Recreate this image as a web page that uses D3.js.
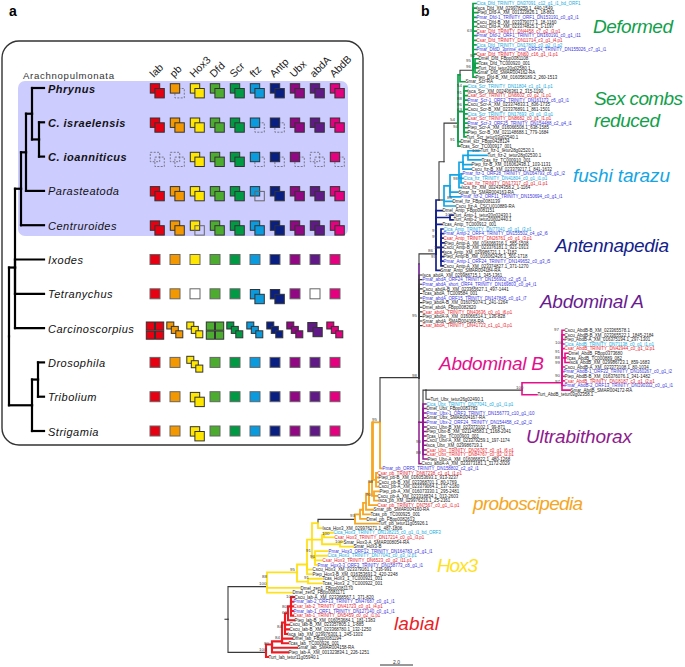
<!DOCTYPE html>
<html><head><meta charset="utf-8">
<script src="https://cdn.jsdelivr.net/npm/d3@7/dist/d3.min.js"></script>
<style>html,body{margin:0;padding:0;background:#fff}svg{display:block}text{font-family:"Liberation Sans",Arial,sans-serif}</style>
</head><body><svg id="c" width="685" height="667"></svg>
<script>
// ---------- panel a data ----------
const genes = ["lab","pb","Hox3","Dfd","Scr","ftz","Antp","Ubx","abdA","AbdB"];
const geneColors = ["#e60012","#f39800","#ffe600","#4cac2f","#009a44","#0a9ade","#0a1f82","#920783","#601986","#e4007f"];
const species = ["Phrynus","C. israelensis","C. ioanniticus","Parasteatoda","Centruroides","Ixodes","Tetranychus","Carcinoscorpius","Drosophila","Tribolium","Strigamia"];
// copy pattern: 1 single, 0 absent, 2 double, d second copy dashed, x both dashed, w second copy white, 3 triple, 4 quadruple, c compact double
const copies = [
 ["2","d","2","2","2","2","2","2","2","2"],
 ["2","2","2","2","2","d","d","2","2","2"],
 ["x","x","2","2","2","d","d","d","x","d"],
 ["2","2","2","2","2","w","2","2","2","2"],
 ["2","2","w","2","2","2","2","2","2","2"],
 ["1","1","1","1","1","1","1","1","1","1"],
 ["1","1","0","1","1","2","2","1","0","1"],
 ["4","3","3","4","3","3","3","3","c","3"],
 ["1","1","3","1","1","1","1","1","1","1"],
 ["1","1","2","1","1","1","1","1","1","1"],
 ["1","1","2","1","1","1","1","1","1","1"]];
const speciesBold = ["Phrynus","C. israelensis","C. ioanniticus"];
// species cladogram: depth on the cladogram axis, tips named
const speciesTree = {d:0,c:[
 {d:6,c:[
  {d:12,c:[
   {d:17,c:[
    {d:23,c:[{s:"Phrynus"},{d:30,c:[{s:"C. israelensis"},{s:"C. ioanniticus"}]}]},
    {s:"Parasteatoda"}]},
   {s:"Centruroides"}]},
  {s:"Ixodes"},{s:"Tetranychus"},{s:"Carcinoscorpius"}]},
 {d:23,c:[{d:29,c:[{s:"Drosophila"},{s:"Tribolium"}]},{s:"Strigamia"}]}]};

// ---------- panel b data: tip labels and tip depths, top to bottom ----------
const dfdLeaves = ["Cica_Dfd_TRINITY_DN37091_c12_g1_i1_bd_ORF1","Isca_Dfd_XM_029978259.1_440-1549","Ptep_Dfd-A_XM_001323826.1_18-863","Pmar_Dfd-1_TRINITY_ORF1_DN153191_c0_g3_i1","Cscu_Dfd-B_XM_023379077.1_18-1160","Cscu_Dfd-A_XM_023374825.1_1-1197","Csar_Dfd_TRINITY_DN4458_c7_g2_i3.p1","Pmar_Dfd-2_ORF1_TRINITY_DN160191_c0_g1_i11","Csar_Dfd_TRINITY_DN11714_c3_g1_i4.p1","Cica_Dfd_TRINITY_DN17803_c0_g2_i1.p2","Pmar_DfdD_3prime_end_ORF34_TRINITY_DN155026_c7_g1_i1","Csar_Dfd_TRINITY_DN60_c16_g1_i1.p1","Dmel_Dfd_FBpp0081108","Tcas_Dfd_TC000920_001","Turt_Dfd_tetur20g02580.1","Smar_Dfd_SMAR004162-RA","Ptep_Dfd-B_XM_016058189.2_260-1513"];
const dfdDepths = [248,248,249,248,248,248,248,248,248,248,248,248,250,250,250,249,247];
const scrLeaves = ["Smar_Scr-RA","Cica_Scr_TRINITY_DN11804_c1_g1_i1.p1","Isca_Scr_XM_002406361.2_315-1190","Csar_Scr_TRINITY_DN6602_c0_g2_i1.p1","Pmar_Scr-1_ORF2_TRINITY_DN161173_c6_g3_i1","Cscu_Scr-A_XM_023374833.1_836-1735","Cscu_Scr-B_XM_023376891.1_861-1501","Cica_Scr_TRINITY_DN17693_c0_g1_i3.p1","Csar_Scr_TRINITY_DN8682_c0_g1_i1.p1","Pmar_Scr-3_ORF25_TRINITY_DN154488_c2_g4_i1","Ptep_Scr-A_XM_016066508.1_638-1585","Ptep_Scr-B_XM_021148688.1_779-1684","Turt_Scr_tetur03g02540.1","Dmel_scr_FBpp0428124","Tcas_Scr_TC000917_001"];
const scrDepths = [237,239,239,239,239,239,239,239,239,239,239,239,238,232,232];
const ftzLeaves = ["Turt_ftz-1_tetur28g02520.1","Turt_ftz-2_tetur28g02530.1","Tcas_ftz_TC000910_001","Ptep_ftz-B_XM_016062438.1_103-1131","Cscu_ftz-B_XM_023379217.1_841-1632","Pmar_ftz-1_ORF28_TRINITY_DN164793_c6_g1_i2","Cica_ftz_TRINITY_DN41804_c0_g1_i1.p1","Csar_ftz_TRINITY_DN17317_c0_g1_i1.p1","Isca_ftz_XM_002434358.2_1-1164","Smar_ftz_SMAR004163-RA","Pmar_ftz-2_ORF11_TRINITY_DN150694_c0_g1_i1","Dmel_ftz_FBpp0081139","Cscu_ftz-A_CSCU010889-RA"];
const ftzDepths = [252,259,253,243,243,234,235,235,233,230,232,224,227];
const antpLeaves = ["Dmel_Antp_FBpp0081151","Turt_Antp-1_tetur20g02430.1","Turt_Antp-2_tetur20g02440.1","Tcas_Antp_TC000912_001","Cica_Antp_TRINITY_DN77041_c0_g1_i3.p1","Pmar_Antp-2_ORF4_TRINITY_DN155502_c4_g2_i6","Csar_Antp_TRINITY_DN26761_c0_g1_i3.p1","Ptep_Antp-A_XM_016066316.1_585-1508","Cscu_Antp-B_XM_023376181.1_921-1913","Isca_Antp_XM_029986721.1_1-1182","Ptep_Antp-B_XM_016062426.1_501-1718","Pmar_Antp-1_ORF24_TRINITY_DN149652_c0_g3_i5","Cscu_Antp-A_XM_023374827.1_371-1270","Smar_Antp_SMAR004184-RA"];
const antpDepths = [214,225,225,214,215,215,215,216,215,215,215,215,215,212];
const abdALeaves = ["Isca_abdA_XM_029986715.1_345-1361","Pmar_abdA_ORF24_TRINITY_DN156902_c2_g5_i1","Pmar_abdA_short_ORF4_TRINITY_DN169803_c0_g4_i1","Cscu_abdA-B_XM_023365627.1_497-1441","Tcas_abdA_TC009584_001","Pmar_abdA_ORF15_TRINITY_DN147845_c0_g1_i7","Ptep_abdA-B_XM_016075074.1_241-1264","Dmel_abdA_FBpp0082620","Csar_abdA_TRINITY_DN43636_c0_g1_i6.p1","Ptep_abdA-A_XM_016066514.1_136-828","Smar_abdA_SMAR004168-RA","Csar_abdA_TRINITY_DN41723_c1_g1_i3.p1"];
const abdADepths = [194,194,194,194,194,194,194,194,194,194,194,194];
const abdBLeaves = ["Cscu_AbdB-B_XM_023365578.1","Cscu_AbdB-B_XM_023365522.1_1845-2184","Ptep_AbdB-A_XM_016375194.1_297-1301","Cica_AbdB_TRINITY_DN71138_c0_g1_i1.p1","Csar_AbdB_TRINITY_DN42944_c0_g1_i2.p1","Dmel_AbdB_FBpp0373680","Tcas_AbdB_TC000889_082","Isca_AbdB_XM_029986723.1_859-1683","Cscu_AbdB-A_XM_023373108.1_80-1034","Pmar_AbdB-1_ORF22_TRINITY_DN160267_c0_g1_i2","Ptep_AbdB-B_XM_016376076.1_341-1482","Csar_AbdB_TRINITY_DN18187_c3_g1_i2.p1","Pmar_AbdB-2_ORF13_TRINITY_DN190332_c0_g1_i1","Smar_AbdB_SMAR004172-RA","Turt_AbdB_tetur03g02358.1"];
const abdBDepths = [336,336,336,336,336,340,338,341,336,335,336,336,336,342,309];
const ubxLeaves = ["Turt_Ubx_tetur26g02490.1","Cica_Ubx_TRINITY_DN77041_c0_g1_i1.p1","Dmel_Ubx_FBpp0083783","Pmar_Ubx-1_ORF3_TRINITY_DN156773_c10_g1_i10","Smar_Ubx_SMAR004167-RA","Pmar_Ubx-2_ORF24_TRINITY_DN154458_c2_g2_i2","Cscu_Ubx-B_XM_023373102.1_99-871","Ptep_Ubx-B_XM_021148583.1_1168-2041","Tcas_Ubx_TC000903_001","Cscu_Ubx-A_XM_023379259.1_197-1174","Isca_Ubx_XM_029986719.1","Csar_Ubx_TRINITY_DN26767_c0_g1_i6.p1","Csar_Ubx_TRINITY_DN84767_c0_g2_i2.p1","Ptep_Ubx-A_XM_016066822.1_480-1268","Cscu_abdA-A_XM_023373181.1_1172-2029"];
const ubxDepths = [202,198,198,198,198,198,198,198,198,198,198,198,198,199,193];
const pbLeaves = ["Pmar_pb_ORF5_TRINITY_DN158802_c2_g2_i1","Csar_pb_TRINITY_DN67238_c1_g1_i1.p1","Ptep_pb-B_XM_016053693.1_913-3237","Cscu_pb-B_XM_023368701.1_80-1769","Cscu_pb-A_XM_023379064.1_137-2180","Ptep_pb-A_XM_016073330.1_295-2481","Cscu_pb-A_XM_023316834.1_013-2603","Isca_pb_XM_029976216.1_25-2161","Csar_pb_TRINITY_DN7567_c0_g1_i1.p1","Smar_pb_SMAR004160-RA","Tcas_pb_TC000925_001","Dmel_pb_FBpp0082613","Turt_pb_tetur11g05926.1"];
const pbDepths = [154,149,150,150,150,151,149,150,149,145,142,138,150];
const hox3Leaves = ["Isca_Hox3_XM_029976271.1_487-1806","Cica_Hox3_TRINITY_DN138215_c0_g1_i1_bd_ORF3","Csar_Hox3_TRINITY_DN17214_c0_g1_i3.p1","Smar_Hox3-A_SMAR008054-RA","Smar_Hox3-B","Pmar_Hox3_ORF12_TRINITY_DN164783_c3_g1_i1","Cica_Hox3_TRINITY_DN77041_c0_g3_i2.p1","Csar_Hox3_TRINITY_DN6523_c0_g2_i11.p1","Pmar_Hox3-3_ORF3_TRINITY_DN158773_c8_g1_i1","Cscu_Hox3_XM_023379161.1_316-991","Ptep_Hox3-B_XM_016353691.2_420-2248","Tcas_Hox3_1_TC000921_001","Tcas_Hox3_2_TC000922_001","Dmel_zen1_FBpp0081170","Dmel_zen2_FBpp0081171"];
const hox3Depths = [94,105,106,115,125,100,99,94,89,84,84,94,94,72,64];
const labLeaves = ["Cscu_lab-A_XM_023368567.1_371-820","Pmar_lab-2_ORF13_TRINITY_DN47687_c0_g1_i1","Csar_lab-2_TRINITY_DN41723_c0_g1_i4.p1","Pmar_lab-1_ORF1_TRINITY_DN127140_c0_g1_i1","Csar_lab-1_TRINITY_DN5459_c0_g2_i1.p1","Ptep_lab-B_XM_016053684.1_181-1383","Cscu_lab-B_XM_023357805.1_1-885","Cscu_lab-B_XM_023368780.1_132-1250","Isca_lab_XM_029976301.1_245-1303","Dmel_lab_FBpp0081194","Tcas_lab_TC000926_001","Smar_lab_SMAR004158-RA","Ptep_lab-A_XM_001323834.1_226-1251","Turt_lab_tetur11g05940.1"];
const labDepths = [66,65,65,65,65,66,61,61,59,64,60,69,60,40];

const cladeColor = {ink:"#3a3a3a",dfd:"#10a04a",ftz:"#14a5e4",antp:"#14228a",abdA:"#6a1b8f",abdB:"#e4108c",ubx:"#8e1a8e",pb:"#f5a623",hox3:"#ffe11a",lab:"#ec1c24"};
const prefixColor = {Cica:"#16a9dc",Pmar:"#3a36dd",Csar:"#e8242c"};

// Topology: {d: depth, r: row override, k: clade, ck: clade of children, c: children}; a number n = next n tips
const scrClade = {d:236,c:[11,1]};
const dfdClade = {d:245,r:14.5,k:"ink",ck:"dfd",c:[12,{d:247,c:[4]},1]};
const ftzClade = {d:216,r:42.7,k:"ink",ck:"ftz",c:[
  {d:222,c:[{d:231,c:[{d:235,c:[{d:240,c:[3]},2]},{d:233,c:[3]},1]},2]},2]};
const antpStem = {d:211,r:42.7,k:"antp",ck:"ink",c:[
  {d:216,r:34.4,k:"ink",c:[
    {d:230,r:26,k:"ink",ck:"dfd",c:[
      {d:232,r:15.5,c:[dfdClade,1]},
      scrClade,2]}]},
  ftzClade]};
const antpClade = {d:208,r:54.4,k:"ink",ck:"antp",c:[antpStem,1,{d:222,c:[2]},1,{d:213,c:[9]},1]};
const abdBClade = {d:294,r:84,k:"ink",ck:"abdB",c:[{d:334,r:82.4,c:[5,{d:337,c:[3]},5,1]},1]};
const ubxClade = {d:191,r:91,k:"ink",ck:"ubx",c:[{d:195,r:91,c:[{d:198,r:84,k:"ink",c:[abdBClade,{n:1,k:"ink"}]},13]},1]};
const coreClade = {d:191,r:81.3,k:"ink",ck:"ink",c:[{d:191,r:56.6,k:"abdA",ck:"ink",c:[antpClade]},12,ubxClade]};
const pbClade = {d:127,r:112.1,k:"ink",ck:"pb",c:[
  {d:132,r:111,c:[{d:135,r:110,c:[{d:138,r:108.5,c:[{d:141,r:106.5,c:[{d:144,r:104,c:[
    {d:145,r:91,c:[{d:152,r:91,c:[coreClade,1]},{d:148,c:[4]}]},
    {d:146,c:[3]}]},1]},1]},1]},1]},1]};
const hox3Clade = {d:39,r:126.7,k:"ink",ck:"hox3",c:[
  {d:69,r:123.6,c:[
    {d:79,r:121.9,c:[
      {d:84,r:116.5,c:[
        {d:90,r:112.9,c:[pbClade,1]},
        {d:94,c:[{d:96,c:[2]},{d:112,c:[2]}]},
        {d:87,c:[4]}]},
      2]},
    {d:80,r:125.6,c:[2]}]},
  2]};
const labClade = {d:38,r:141,k:"ink",ck:"lab",c:[
  {d:44,r:139.3,c:[
    {d:54,r:138.6,c:[{d:57,r:134.5,c:[{d:60,c:[{d:63,c:[5]},1]},3]},2]},
    2]},
  1]};
const rootClade = {d:0,r:133.8,k:"ink",c:[hox3Clade,labClade]};
const rootStem = -3;

const bootValues = [63,90,95,96,54,91,88,96,63,54,94,91,100,98,85,100,97,99,100,86,93,95,98,97,100,91,88,99,90,97,100,90,88,95,98,90,93,100,100,91,96,95,91,88,100,100,80,62,84,84,80,100];
const bootDepths = [239,242,238,238,229,229,229,229,229,222,225,222,244,225,219,217,204,204,206,200,203,184,184,326,327,327,327,327,327,327,288,188,188,144,140,138,122,94,107,78,82,62,76,34,31,58,54,54,49,47,36,31];
const bootRows   = [5.8,11.2,12.3,13.6,17.8,19.2,20.5,21.8,23,25.1,26.6,29.6,31.8,37.9,42.2,45.9,49.2,50.5,52.9,53.7,54.9,67.8,80.7,70.9,73.7,75.6,76.8,78,80.7,82,83.4,95.2,97.6,90.4,103.9,106.7,111.3,115.2,116.9,118.9,120.2,123,124.7,124.5,126,128.9,131,132.2,135.4,137.8,139,140.4];

const cladeTitles = ["Deformed","Sex combs","reduced","fushi tarazu","Antennapedia","Abdominal A","Abdominal B","Ultrabithorax","proboscipedia","Hox3","labial"];
const titleClades = ["dfd","dfd","dfd","ftz","antp","abdA","abdB","ubx","pb","hox3","lab"];
const titleDepths = [365,366,366,345,327,312,211,298,245,209,166];
const titleRows   = [6.4,22,26.8,38.7,54,66.1,79.6,95.6,110,123.6,136.2];
const titleWidths = [80,89,66,97,114,104,105,106,110,41,45];

// ---------- scales ----------
const svg = d3.select("#c");
const tx = d3.scaleLinear().domain([0,457]).range([228,685]);
const ty = d3.scaleLinear().domain([0,142]).range([3.5,657]);
const colX = d3.scalePoint().domain(genes).range([155,335]);
const rowY = d3.scalePoint().domain(species).range([88,431]);
const spX = d3.scaleLinear().domain([0,35]).range([9,44]);
const geneFill = d3.scaleOrdinal().domain(genes).range(geneColors);

// ---------- panel labels ----------
svg.append("text").attr("x",9).attr("y",16).attr("font-size",14).attr("font-weight","bold").text("a");
svg.append("text").attr("x",421).attr("y",16).attr("font-size",14).attr("font-weight","bold").text("b");

// ---------- panel a ----------
const pa = svg.append("g");
pa.append("rect").attr("x",2).attr("y",41).attr("width",361).attr("height",404).attr("rx",17)
  .attr("fill","#fff").attr("stroke","#333").attr("stroke-width",1.4);
pa.append("rect").attr("x",18).attr("y",81).attr("width",330).attr("height",155).attr("rx",7).attr("fill","#ccccff");
pa.append("text").attr("x",23).attr("y",79).attr("font-size",9.6).attr("fill","#333").attr("textLength",91).text("Arachnopulmonata");

pa.selectAll("text.gene").data(genes).join("text").attr("class","gene").attr("font-size",10.5).attr("fill","#222")
  .attr("transform",d=>`translate(${colX(d)-1},78) rotate(-45)`).text(d=>d);

// cladogram
const spRoot = d3.hierarchy(speciesTree,d=>d.c);
spRoot.eachAfter(n=>{ n.py = n.data.s ? rowY(n.data.s) : d3.mean(n.children,c=>c.py); n.px = n.data.s ? spX(35) : spX(n.data.d); });
const spLine = pa.append("g").attr("fill","none").attr("stroke","#000").attr("stroke-width",2.2).attr("stroke-linecap","square");
spRoot.each(n=>{ if(!n.parent) return;
  const p=d3.path(); p.moveTo(n.parent.px,n.py); p.lineTo(n.px,n.py); spLine.append("path").attr("d",p.toString());
  const v=d3.path(); v.moveTo(n.parent.px,n.parent.py); v.lineTo(n.parent.px,n.py); spLine.append("path").attr("d",v.toString());
});
pa.selectAll("text.sp").data(species).join("text").attr("class","sp").attr("x",48).attr("y",d=>rowY(d)+4.5)
  .attr("font-size",11).attr("font-style","italic").attr("letter-spacing","0.5px")
  .attr("font-weight",d=>speciesBold.includes(d)?"bold":"normal").attr("fill","#111").text(d=>d);

// gene copies
const layouts = {
  "1":{s:10,p:[[0,0,"f"]]},
  "0":{s:10,p:[[0,0,"w"]]},
  "2":{s:9.4,p:[[0,0.4,"f"],[4.6,5.2,"f"]]},
  "d":{s:9.4,p:[[4.6,5.2,"x"],[0,0.4,"f"]]},
  "x":{s:9.4,p:[[0,0.4,"x"],[4.6,5.2,"x"]]},
  "w":{s:9.4,p:[[0,0.4,"f"],[4.6,5.2,"o"]]},
  "c":{s:9.2,p:[[-2.6,-1,"f"],[2.6,4,"f"]]},
  "3":{s:7,p:[[-4.7,-2.6,"f"],[-0.2,1.8,"f"],[4.3,6.2,"f"]]},
  "4":{s:8.2,p:[[-4.6,-2,"f"],[4.6,-2,"f"],[-4.6,7,"f"],[4.6,7,"f"]]}
};
const cellG = pa.append("g");
species.forEach((sp,i)=>{
  genes.forEach((g,j)=>{
    const code = copies[i][j], lay = layouts[code];
    lay.p.forEach(q=>{
      const kind=q[2];
      cellG.append("rect").attr("x",colX(g)+q[0]-lay.s/2).attr("y",rowY(sp)+q[1]-lay.s/2)
        .attr("width",lay.s).attr("height",lay.s)
        .attr("fill",kind==="f"?geneFill(g):kind==="w"?"#fff":"none")
        .attr("stroke",kind==="x"?"#555":(code==="1"||code==="0"?"#666":(kind==="o"?"#666":"#333")))
        .attr("stroke-width",kind==="x"?0.7:1)
        .attr("stroke-dasharray",kind==="x"?"2 1.4":null);
    });
  });
});

// ---------- panel b ----------
const leaves = [].concat(dfdLeaves,scrLeaves,ftzLeaves,antpLeaves,abdALeaves,abdBLeaves,ubxLeaves,pbLeaves,hox3Leaves,labLeaves);
const depths = [].concat(dfdDepths,scrDepths,ftzDepths,antpDepths,abdADepths,abdBDepths,ubxDepths,pbDepths,hox3Depths,labDepths);
let nextLeaf = 0;
function expand(src,k){
  const own = src.k||k, ck = src.ck||own;
  const node = {d:src.d,r:src.r,k:own,kids:[]};
  src.c.forEach(ch=>{
    if(typeof ch==="number"){ for(let i=0;i<ch;i++){ const ix=nextLeaf++; node.kids.push({leaf:ix,d:depths[ix],r:ix,k:ck,kids:null}); } }
    else if(ch.n){ for(let i=0;i<ch.n;i++){ const ix=nextLeaf++; node.kids.push({leaf:ix,d:depths[ix],r:ix,k:ch.k||ck,kids:null}); } }
    else node.kids.push(expand(ch,ck));
  });
  return node;
}
const root = d3.hierarchy(expand(rootClade,"ink"),d=>d.kids);
root.eachAfter(n=>{
  n.row = n.data.r!==undefined ? n.data.r : (n.children[0].row + n.children[n.children.length-1].row)/2;
});
const widths = {ink:1.1,dfd:1.7,ftz:1.7,antp:1.7,abdA:1.6,abdB:1.6,ubx:1.5,pb:1.8,hox3:1.8,lab:2.1};
const branches = svg.append("g").attr("fill","none").attr("stroke-linecap","square");
branches.append("path").attr("d",`M${tx(rootStem)},${ty(root.row)}H${tx(0)}`).attr("stroke",cladeColor.ink).attr("stroke-width",widths.ink);
root.eachBefore(n=>{
  if(!n.parent) return;
  const p=d3.path();
  p.moveTo(tx(n.parent.data.d),ty(n.parent.row));
  p.lineTo(tx(n.parent.data.d),ty(n.row));
  p.lineTo(tx(n.data.d),ty(n.row));
  branches.append("path").attr("d",p.toString()).attr("stroke",cladeColor[n.data.k]).attr("stroke-width",widths[n.data.k]);
});
const leafColor = s => prefixColor[s.slice(0,4)] || "#222";
svg.append("g").selectAll("text").data(root.leaves()).join("text")
  .attr("x",d=>tx(d.data.d)+0.5).attr("y",d=>ty(d.row)+1.7)
  .attr("font-size",4.45).attr("fill",d=>leafColor(leaves[d.data.leaf]))
  .text(d=>leaves[d.data.leaf]);

svg.append("g").selectAll("text").data(bootValues).join("text")
  .attr("x",(d,i)=>tx(bootDepths[i])).attr("y",(d,i)=>ty(bootRows[i])+1.7)
  .attr("font-size",4.4).attr("fill","#444").text(d=>d);

svg.append("g").selectAll("text").data(cladeTitles).join("text")
  .attr("x",(d,i)=>tx(titleDepths[i])).attr("y",(d,i)=>ty(titleRows[i]))
  .attr("font-size",19).attr("font-style","italic")
  .attr("textLength",(d,i)=>titleWidths[i])
  .attr("fill",(d,i)=>cladeColor[titleClades[i]]).text(d=>d);

// scale bar: 2.0 units
const barUnits = d3.scaleLinear().domain([0,2]).range([tx(152),tx(185)]);
svg.append("line").attr("x1",barUnits(0)).attr("x2",barUnits(2)).attr("y1",665).attr("y2",665).attr("stroke","#333").attr("stroke-width",1);
svg.append("text").attr("x",barUnits(1)).attr("y",663.5).attr("text-anchor","middle").attr("font-size",5).attr("fill","#333").text("2.0");
</script></body></html>
